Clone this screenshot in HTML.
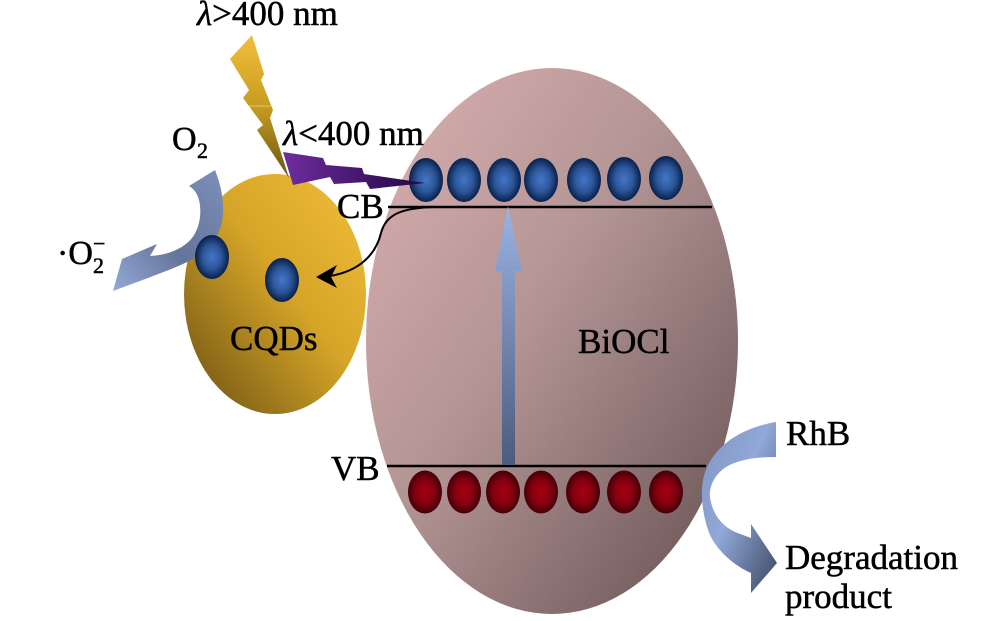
<!DOCTYPE html>
<html><head><meta charset="utf-8"><style>
html,body{margin:0;padding:0;background:#fff;}
svg{display:block;}
svg text{font-family:"Liberation Serif","Times New Roman","DejaVu Serif",serif !important;fill:#000;stroke:#000;stroke-width:0.5px;}
</style></head><body>
<svg width="1000" height="621" viewBox="0 0 1000 621" xmlns="http://www.w3.org/2000/svg">
<defs>
<linearGradient id="gBi" x1="0" y1="0" x2="1" y2="1">
<stop offset="0" stop-color="#dcb1b1"/>
<stop offset="0.45" stop-color="#b39494"/>
<stop offset="1" stop-color="#644f50"/>
</linearGradient>
<linearGradient id="gCQ" x1="1" y1="0" x2="0" y2="1">
<stop offset="0" stop-color="#f2bd3a"/>
<stop offset="0.45" stop-color="#d6a528"/>
<stop offset="1" stop-color="#684f12"/>
</linearGradient>
<radialGradient id="gBlue" cx="0.5" cy="0.5" r="0.5">
<stop offset="0" stop-color="#4476c8"/>
<stop offset="0.55" stop-color="#2c5699"/>
<stop offset="1" stop-color="#08204a"/>
</radialGradient>
<radialGradient id="gRed" cx="0.5" cy="0.5" r="0.5">
<stop offset="0" stop-color="#a50012"/>
<stop offset="0.55" stop-color="#86000f"/>
<stop offset="1" stop-color="#420008"/>
</radialGradient>
<linearGradient id="gUp" x1="0" y1="0" x2="0" y2="1">
<stop offset="0" stop-color="#9bb3e2"/>
<stop offset="1" stop-color="#4c5b7e"/>
</linearGradient>
<linearGradient id="gYel" x1="0" y1="0" x2="0" y2="1">
<stop offset="0" stop-color="#f3be3d"/>
<stop offset="0.5" stop-color="#c79c1f"/>
<stop offset="1" stop-color="#6a5418"/>
</linearGradient>
<linearGradient id="gPur" x1="0" y1="0" x2="1" y2="0">
<stop offset="0" stop-color="#6e2da0"/>
<stop offset="1" stop-color="#230640"/>
</linearGradient>
<linearGradient id="gO2" x1="1" y1="0" x2="0" y2="1">
<stop offset="0" stop-color="#7d8fb9"/>
<stop offset="0.55" stop-color="#64759a"/>
<stop offset="1" stop-color="#93a9d8"/>
</linearGradient>
<linearGradient id="gRh" x1="0" y1="0" x2="1" y2="1">
<stop offset="0" stop-color="#8094c0"/>
<stop offset="0.45" stop-color="#91a8d8"/>
<stop offset="1" stop-color="#3a4761"/>
</linearGradient>
</defs>

<!-- BiOCl ellipse -->
<ellipse cx="552" cy="341" rx="186" ry="273" fill="url(#gBi)"/>
<!-- CQDs ellipse -->
<ellipse cx="275" cy="294" rx="91" ry="120" fill="url(#gCQ)"/>

<!-- band lines -->
<line x1="388" y1="207" x2="712" y2="207" stroke="#000" stroke-width="2.5"/>
<line x1="387" y1="466" x2="706" y2="466" stroke="#000" stroke-width="2.5"/>

<!-- CB electrons -->
<g fill="url(#gBlue)">
<ellipse cx="426" cy="180" rx="17" ry="22"/>
<ellipse cx="464" cy="180" rx="17" ry="22"/>
<ellipse cx="504" cy="180" rx="17" ry="22"/>
<ellipse cx="541" cy="180" rx="17" ry="22"/>
<ellipse cx="584" cy="180" rx="17" ry="22"/>
<ellipse cx="624" cy="179" rx="17" ry="22"/>
<ellipse cx="666" cy="178" rx="17" ry="22"/>
</g>
<!-- VB holes -->
<g fill="url(#gRed)">
<ellipse cx="425" cy="492" rx="17" ry="21.5"/>
<ellipse cx="464" cy="492" rx="17" ry="21.5"/>
<ellipse cx="503" cy="492" rx="17" ry="21.5"/>
<ellipse cx="541" cy="492" rx="17" ry="21.5"/>
<ellipse cx="583" cy="492" rx="17" ry="21.5"/>
<ellipse cx="624" cy="492" rx="17" ry="21.5"/>
<ellipse cx="666" cy="492" rx="17" ry="21.5"/>
</g>

<!-- vertical excitation arrow -->
<path d="M502,465 L502,271 L495,271 L508,206 L522,271 L515,271 L515,465 Z" fill="url(#gUp)"/>

<!-- O2 curved arrow -->
<path d="M215,170 C222,188 225,205 222,222 C218,240 206,252 191,260 C176,268 160,273 148,278 L113,291 L122,259 L157,244 L150,256 C168,255 183,249 192,238 C200,228 202,212 199,200 C197,193 194,189 189,186 Z" fill="url(#gO2)"/>

<!-- CQDs electrons -->
<ellipse cx="212" cy="257" rx="17" ry="22" fill="url(#gBlue)"/>
<ellipse cx="282" cy="280" rx="17" ry="22" fill="url(#gBlue)"/>

<!-- yellow lightning -->
<polygon points="252,35 264,74 261,80 273,110 270,118 289,178 257,130 263,125 243,98 249,90 230,59" fill="url(#gYel)"/>
<line x1="249" y1="106" x2="272" y2="106" stroke="#e8d49a" stroke-width="1" opacity="0.7"/>

<!-- purple lightning -->
<polygon points="283,152 323,158 326,165 362,168 364,174 425,183 370,189 366,182 334,184 330,177 293,185" fill="url(#gPur)"/>

<!-- curved black arrow CB -> CQDs -->
<path d="M434,207 C402,208 386,214 381,233 C376,254 360,271 330,276" fill="none" stroke="#000" stroke-width="2"/>
<polygon points="316,277 337,265 331,277 337,288" fill="#000"/>

<!-- RhB arrow -->
<path d="M776,422 L776,457 C755,457 738,460 726,467 C714,475 709,487 710,497 C712,512 720,525 735,532 L751,538 L751,524 L777,563 L751,593 L751,573 C735,566 718,552 710,535 C703,518 700,495 703,480 C708,455 730,430 776,422 Z" fill="url(#gRh)"/>

<!-- labels -->
<g font-family="Liberation Serif, Times New Roman, serif">
<text x="197" y="25" font-size="35"><tspan font-style="italic">λ</tspan>&gt;400 nm</text>
<text x="283" y="145" font-size="35"><tspan font-style="italic">λ</tspan>&lt;400 nm</text>
<text x="172" y="150" font-size="34">O</text>
<text x="197" y="158" font-size="22">2</text>
<text x="57" y="264" font-size="34">·O</text>
<text x="93" y="273" font-size="22">2</text>
<text x="93" y="251" font-size="22">−</text>
<text x="337" y="218" font-size="35">CB</text>
<text x="331" y="480" font-size="35">VB</text>
<text x="230" y="350" font-size="35">CQDs</text>
<text x="578" y="353" font-size="35">BiOCl</text>
<text x="786" y="445" font-size="35">RhB</text>
<text x="785" y="569" font-size="35">Degradation</text>
<text x="785" y="608" font-size="35">product</text>
</g>
</svg>
</body></html>
